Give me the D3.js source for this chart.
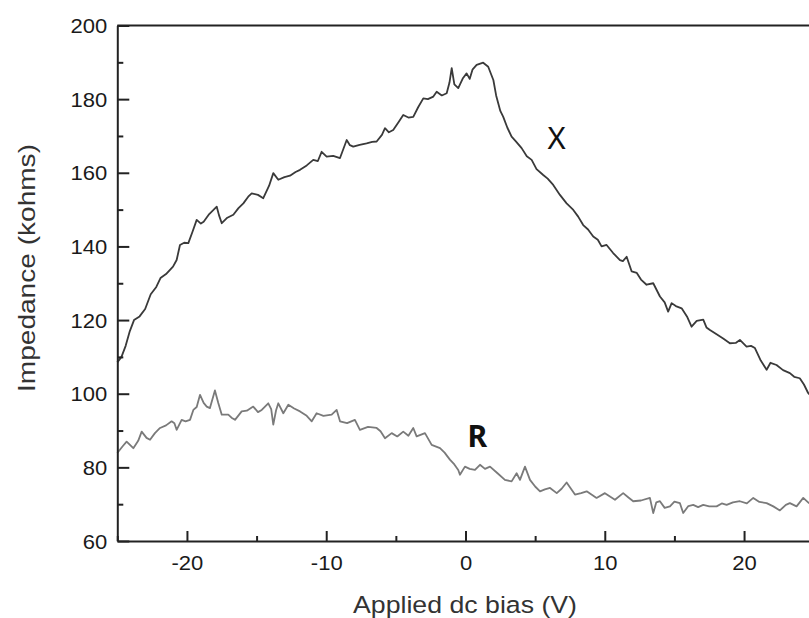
<!DOCTYPE html>
<html>
<head>
<meta charset="utf-8">
<script src="https://cdn.jsdelivr.net/npm/d3@7"></script>
<style>
  html, body { margin: 0; padding: 0; background: #fff; }
  svg { display: block; }
</style>
</head>
<body>
<svg id="chart" width="809" height="618"></svg>
<script>
// ---- data ----
const xTickValues = [-20, -10, 0, 10, 20];
const xMinorTicks = [-25, -15, -5, 5, 15, 25];
const yTickValues = [60, 80, 100, 120, 140, 160, 180, 200];
const yMinorTicks = [70, 90, 110, 130, 150, 170, 190];

// X (reactance) curve: bias (V) and impedance (kohms)
const reactanceBias = [-25,-24.7,-24.4,-24.1,-23.8,-23.4,-23.0,-22.6,-22.2,-21.9,-21.5,-21.0,-20.74,-20.5,-20.2,-19.9,-19.6,-19.3,-19.0,-18.8,-18.4,-17.86,-17.7,-17.5,-17.1,-16.67,-16.3,-15.95,-15.6,-15.35,-14.9,-14.52,-14.1,-13.8,-13.44,-13.0,-12.6,-12.2,-11.88,-11.4,-10.93,-10.6,-10.33,-9.97,-9.5,-9.01,-8.53,-8.3,-8.06,-7.6,-7.1,-6.7,-6.38,-6.0,-5.78,-5.5,-5.19,-4.8,-4.47,-4.1,-3.75,-3.4,-3.03,-2.7,-2.31,-2.07,-1.7,-1.35,-1.15,-0.99,-0.8,-0.52,-0.2,0.08,0.3,0.5,0.8,1.27,1.63,2.0,2.2,2.35,2.5,2.71,3.0,3.31,3.6,4.03,4.4,4.75,5.1,5.58,5.9,6.3,6.78,7.26,7.74,8.09,8.45,8.8,9.17,9.5,9.77,10.13,10.6,11.09,11.3,11.57,11.93,12.3,12.6,13.0,13.48,13.96,14.3,14.55,14.8,15.1,15.52,15.9,16.23,16.6,17.07,17.3,17.55,18.0,18.5,18.98,19.4,19.7,20.18,20.5,20.78,21.2,21.62,21.9,22.33,22.8,23.29,23.6,24.0,24.3,24.6,25.0];
const reactanceImp = [108.5,110,113,117,120,121,123,127,129,131.4,132.5,134.5,136.3,140.4,141,140.9,144,147.2,146.2,146.7,148.8,150.8,148.5,146.3,147.8,148.6,150.4,151.7,153.5,154.4,154.0,153.1,156.5,159.9,158.1,158.8,159.2,160.2,160.8,162.0,163.5,163.2,165.7,164.4,164.6,164.0,168.9,167.5,167.1,167.6,168.0,168.4,168.5,170.3,172.1,171.0,171.6,173.8,175.7,175.0,175.2,177.8,180.2,180.0,180.7,182.0,181.0,181.6,184.5,188.4,184.0,183.0,185.6,187.0,185.5,188.0,189.3,189.9,188.8,185.2,181.0,178.9,176.8,175.2,172.3,169.8,168.6,166.7,164.5,163.5,161.0,159.4,158.4,156.7,154.0,151.7,149.9,148.1,145.8,144.6,142.7,141.8,140.0,140.4,138.2,136.3,136.0,137.2,133.2,132.8,131.0,129.6,130.0,126.4,124.8,122.3,124.6,123.8,123.2,121.0,118.2,119.8,120.1,118.0,117.3,116.2,115.0,113.7,113.8,114.6,112.8,113.0,112.4,109.0,106.5,108.4,107.8,106.4,105.6,104.6,104.2,102.5,100.2,98.5];

// R (resistance) curve
const resistanceBias = [-25.0,-24.6,-24.33,-23.85,-23.5,-23.25,-22.9,-22.65,-22.3,-21.93,-21.5,-21.1,-20.9,-20.74,-20.38,-20.1,-19.78,-19.54,-19.3,-19.06,-18.8,-18.58,-18.35,-17.99,-17.75,-17.5,-17.03,-16.8,-16.55,-16.07,-15.7,-15.24,-14.9,-14.63,-14.16,-13.95,-13.8,-13.6,-13.44,-13.08,-12.72,-12.3,-11.88,-11.4,-11.04,-10.69,-10.2,-9.61,-9.25,-9.01,-8.5,-7.94,-7.58,-7.0,-6.38,-6.1,-5.78,-5.3,-4.9,-4.47,-4.1,-3.75,-3.51,-2.91,-2.43,-1.83,-1.5,-1.12,-0.8,-0.52,-0.4,-0.04,0.3,0.68,1.04,1.4,1.76,2.3,2.83,3.31,3.67,3.91,4.27,4.63,5.0,5.35,5.7,6.07,6.55,6.9,7.26,7.86,8.3,8.7,9.41,10.01,10.4,10.73,11.32,11.7,12.04,12.6,13.24,13.48,13.7,13.96,14.3,14.68,15.0,15.39,15.63,16.0,16.35,16.7,17.07,17.5,18.03,18.4,18.75,19.2,19.7,20.2,20.66,21.1,21.62,22.1,22.57,23.0,23.29,23.77,24.25,24.66,25.0];
const resistanceImp = [83.9,85.8,87.0,85.2,87.2,89.7,88.0,87.5,89.3,90.7,91.4,92.5,92.0,90.2,92.9,92.5,92.9,95.6,96.4,99.7,97.5,96.5,96.1,100.9,97.5,94.3,94.3,93.5,92.9,95.2,95.4,96.5,95.0,95.6,97.4,95.8,91.6,95.5,97.4,94.7,97.0,96.0,95.2,94.0,92.5,94.7,94.0,94.3,95.6,92.5,92.0,92.9,90.2,91.0,90.7,89.8,87.9,89.3,88.4,89.7,88.6,90.7,88.4,89.3,86.1,85.2,84.0,82.1,80.8,79.3,78.0,80.2,79.6,79.3,80.7,79.6,80.2,78.4,76.6,76.2,78.4,76.6,80.2,76.6,74.8,73.5,74.0,74.4,73.0,74.2,75.9,72.6,73.0,73.5,71.7,73.0,72.0,71.2,73.0,71.8,70.8,71.0,71.7,67.6,70.5,70.8,69.0,69.4,70.7,70.3,67.6,69.5,69.8,69.2,69.8,69.4,69.4,70.2,69.8,70.5,70.8,70.2,71.7,70.6,70.3,69.4,68.3,69.8,70.3,69.4,71.7,70.3,69.6];

const seriesLabels = ["X", "R"];
const xTitle = "Applied dc bias (V)";
const yTitle = "Impedance (kohms)";

// ---- drawing ----
const svg = d3.select("#chart");
svg.append("rect").attr("width", 809).attr("height", 618).attr("fill", "#fff");

const x = d3.scaleLinear().domain([-25, 25]).range([117.3, 813.7]);
const y = d3.scaleLinear().domain([60, 200]).range([541, 25.5]);

const line = d3.line().x(d => x(d[0])).y(d => y(d[1]));
const reactance = d3.zip(reactanceBias, reactanceImp);
const resistance = d3.zip(resistanceBias, resistanceImp);

svg.append("path").datum(resistance).attr("d", line)
  .attr("fill", "none").attr("stroke", "#7a7a7a").attr("stroke-width", 1.8)
  .attr("stroke-linejoin", "round");
svg.append("path").datum(reactance).attr("d", line)
  .attr("fill", "none").attr("stroke", "#3a3a3a").attr("stroke-width", 1.8)
  .attr("stroke-linejoin", "round");

const axisColor = "#222";
const TF = "'Liberation Sans', Arial, sans-serif";
const plainFormat = d => String(d);

// bottom axis: major
const gx = svg.append("g").attr("transform", `translate(0,${y(60)})`)
  .call(d3.axisBottom(x).tickValues(xTickValues).tickSize(-10).tickSizeOuter(0).tickPadding(15.5).tickFormat(plainFormat));
gx.select(".domain").attr("stroke", axisColor).attr("stroke-width", 2);
gx.selectAll(".tick line").attr("stroke", axisColor).attr("stroke-width", 2);
gx.selectAll(".tick text").attr("font-family", TF).attr("font-size", 19.5).attr("fill", "#1a1a1a")
  .attr("transform", "scale(1.13,1)");
// bottom minor
const gxm = svg.append("g").attr("transform", `translate(0,${y(60)})`)
  .call(d3.axisBottom(x).tickValues(xMinorTicks).tickSize(-5).tickSizeOuter(0).tickFormat(""));
gxm.select(".domain").remove();
gxm.selectAll(".tick line").attr("stroke", axisColor).attr("stroke-width", 2);

// left axis: major
const gy = svg.append("g").attr("transform", `translate(${x(-25)},0)`)
  .call(d3.axisLeft(y).tickValues(yTickValues).tickSize(-12).tickSizeOuter(0).tickPadding(8.8).tickFormat(plainFormat));
gy.select(".domain").attr("stroke", axisColor).attr("stroke-width", 2);
gy.selectAll(".tick line").attr("stroke", axisColor).attr("stroke-width", 2);
gy.selectAll(".tick text").attr("font-family", TF).attr("font-size", 19.5).attr("fill", "#1a1a1a")
  .attr("dy", "0.36em").attr("transform", "scale(1.13,1)");
const gym = svg.append("g").attr("transform", `translate(${x(-25)},0)`)
  .call(d3.axisLeft(y).tickValues(yMinorTicks).tickSize(-6).tickSizeOuter(0).tickFormat(""));
gym.select(".domain").remove();
gym.selectAll(".tick line").attr("stroke", axisColor).attr("stroke-width", 2);

// top and right frame
svg.append("line").attr("x1", x(-25)).attr("x2", x(25)).attr("y1", y(200)).attr("y2", y(200))
  .attr("stroke", axisColor).attr("stroke-width", 2);
svg.append("line").attr("x1", x(25)).attr("x2", x(25)).attr("y1", y(200)).attr("y2", y(60))
  .attr("stroke", axisColor).attr("stroke-width", 2);

// axis titles
svg.append("text").text(xTitle)
  .attr("x", 465).attr("y", 613).attr("text-anchor", "middle")
  .attr("font-family", TF).attr("font-size", 24.5).attr("fill", "#333")
  .attr("textLength", 224).attr("lengthAdjust", "spacingAndGlyphs");
svg.append("text").text(yTitle)
  .attr("transform", "translate(35,268) rotate(-90)")
  .attr("text-anchor", "middle")
  .attr("font-family", TF).attr("font-size", 24.5).attr("fill", "#333")
  .attr("textLength", 248).attr("lengthAdjust", "spacingAndGlyphs");

// series labels
svg.append("text").text(seriesLabels[0])
  .attr("x", 556.7).attr("y", 149.3).attr("text-anchor", "middle")
  .attr("font-family", "'Noto Sans', sans-serif").attr("font-size", 31).attr("fill", "#111");
svg.append("text").text(seriesLabels[1])
  .attr("x", 477.3).attr("y", 447.3).attr("text-anchor", "middle")
  .attr("font-family", "'Noto Sans', sans-serif").attr("font-weight", "bold").attr("font-size", 30).attr("fill", "#111");
</script>
</body>
</html>
